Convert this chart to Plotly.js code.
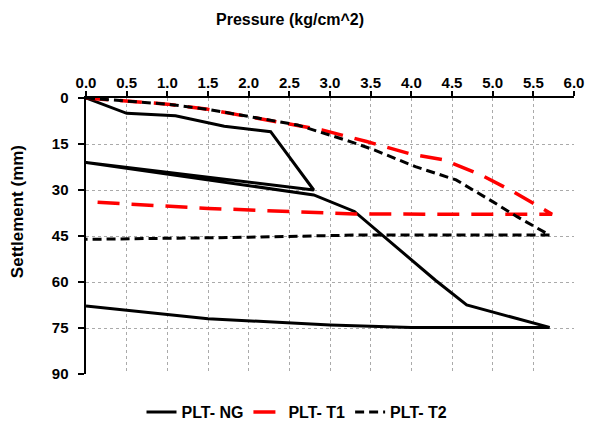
<!DOCTYPE html>
<html>
<head>
<meta charset="utf-8">
<script src="https://cdn.plot.ly/plotly-3.0.1.min.js"></script>
<style>html,body{margin:0;padding:0;background:#fff;}#chart{width:592px;height:423px;}</style>
</head>
<body>
<div id="chart"></div>
<script>
// Data
const seriesNames = ["PLT- NG", "PLT- T1", "PLT- T2"];

const ngPressure   = [0, 0.5, 1.1, 1.7, 2.27, 2.8, 0, 2.8, 3.3, 3.75, 4.3, 4.68, 5.7, 4.0, 3.0, 1.5, 0];
const ngSettlement = [0, 5, 5.8, 9.2, 11, 30, 21, 31.6, 37, 47, 59.5, 67.5, 74.8, 74.8, 74, 72, 67.8];

const t1Pressure   = [0, 0.5, 1.0, 1.5, 2.0, 2.6, 2.9, 3.45, 4.0, 4.4, 4.85, 5.25, 5.73, 4.5, 3.3, 1.5, 0];
const t1Settlement = [0, 0.9, 2.0, 3.7, 6.1, 8.8, 10.4, 14.2, 18.3, 20.2, 25, 30.5, 37.9, 37.9, 37.8, 36, 33.8];

const t2Pressure   = [0, 0.5, 1.0, 1.5, 2.0, 2.6, 3.25, 3.55, 4.05, 4.55, 5.0, 5.3, 5.7, 4.5, 3.3, 2.0, 0];
const t2Settlement = [0, 0.9, 2.0, 3.7, 6.1, 8.8, 14.2, 17, 22.4, 26.7, 33.8, 38.7, 44.7, 44.8, 44.7, 45.4, 46.1];

const xTickVals = [0, 0.5, 1.0, 1.5, 2.0, 2.5, 3.0, 3.5, 4.0, 4.5, 5.0, 5.5, 6.0];
const xTickText = ["0.0","0.5","1.0","1.5","2.0","2.5","3.0","3.5","4.0","4.5","5.0","5.5","6.0"];
const yTickVals = [0, 15, 30, 45, 60, 75, 90];
const yTickText = ["0","15","30","45","60","75","90"];

const xTitle = "Pressure (kg/cm^2)";
const yTitle = "Settlement (mm)";

const FONT = "Arial, 'Liberation Sans', sans-serif";

const traces = [
  {x: ngPressure, y: ngSettlement, name: seriesNames[0], mode: "lines",
   line: {color: "#000000", width: 3}},
  {x: t1Pressure, y: t1Settlement, name: seriesNames[1], mode: "lines",
   line: {color: "#ff0000", width: 3.5, dash: "22px,12px"}},
  {x: t2Pressure, y: t2Settlement, name: seriesNames[2], mode: "lines",
   line: {color: "#000000", width: 3, dash: "9px,5px"}}
];

const layout = {
  width: 592, height: 423,
  margin: {l: 86, r: 18, t: 98, b: 49},
  paper_bgcolor: "#ffffff", plot_bgcolor: "#ffffff",
  font: {family: FONT, size: 15, color: "#000000", weight: "bold"},
  showlegend: true,
  legend: {orientation: "h", xref: "container", yref: "container",
           x: 297 / 592, xanchor: "center", y: 1 - 412 / 423, yanchor: "middle",
           font: {family: FONT, size: 16, color: "#000", weight: "bold"},
           itemwidth: 30, tracegroupgap: 0, bgcolor: "rgba(0,0,0,0)"},
  xaxis: {
    side: "top", range: [0, 6], tickmode: "array", tickvals: xTickVals, ticktext: xTickText,
    showline: true, linecolor: "#000", linewidth: 2.5, ticks: "outside", ticklen: 5,
    tickwidth: 2, tickcolor: "#000", showgrid: true, gridcolor: "#aaaaaa", gridwidth: 1,
    griddash: "dot", zeroline: false, automargin: false, ticklabelstandoff: -3,
    tickfont: {family: FONT, size: 15, color: "#000", weight: "bold"}
  },
  yaxis: {
    range: [90, 0], tickmode: "array", tickvals: yTickVals, ticktext: yTickText,
    showline: true, linecolor: "#000", linewidth: 2.5, ticks: "outside", ticklen: 6,
    tickwidth: 2, tickcolor: "#000", showgrid: true, gridcolor: "#aaaaaa", gridwidth: 1,
    griddash: "dot", zeroline: false, automargin: false, ticklabelstandoff: 6,
    tickfont: {family: FONT, size: 15, color: "#000", weight: "bold"}
  },
  annotations: [
    {text: xTitle, xref: "paper", yref: "paper", x: 0.418, y: 1.283,
     xanchor: "center", yanchor: "middle", showarrow: false,
     font: {family: FONT, size: 16, color: "#000", weight: "bold"}},
    {text: yTitle, xref: "paper", yref: "paper", x: -0.139, y: 0.587,
     xanchor: "center", yanchor: "middle", showarrow: false, textangle: -90,
     font: {family: FONT, size: 17, color: "#000", weight: "bold"}}
  ]
};

Plotly.newPlot("chart", traces, layout, {displayModeBar: false, staticPlot: true});
</script>
</body>
</html>
